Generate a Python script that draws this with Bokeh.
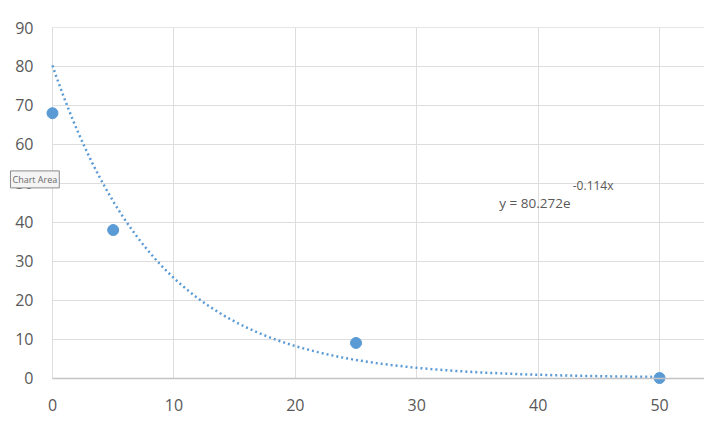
import numpy as np
from bokeh.plotting import figure
from bokeh.models import Range1d, Label, FixedTicker, BoxAnnotation
from bokeh.core.properties import value
from bokeh.embed import file_html
from bokeh.resources import INLINE

# measured points
x_pts = [0, 5, 25, 50]
y_pts = [68, 38, 9, 0]

# exponential trendline as shown on the chart: y = a * e^(b x)
trend_a = 80.272
trend_b = -0.114
trend_x_end = 50

x_ticks = [0, 10, 20, 30, 40, 50]
y_ticks = [0, 10, 20, 30, 40, 50, 60, 70, 80, 90]

blue = "#5B9BD5"
grey_text = "#595959"

x_end = 53.7
# frame covers the whole figure so the axis labels (drawn at x = 0 / y = 0) are not clipped
p = figure(width=704, height=420, output_backend="svg", toolbar_location=None,
           x_range=Range1d(-4.28, x_end), y_range=Range1d(-10.91, 96.94),
           min_border_left=0, min_border_right=0, min_border_top=0, min_border_bottom=0)
p.outline_line_color = None

# axes sit on x = 0 and y = 0, like the spreadsheet chart
for ax in (p.xaxis[0], p.yaxis[0]):
    ax.fixed_location = 0
    ax.major_tick_line_color = None
    ax.minor_tick_line_color = None
    ax.major_tick_out = 0
    ax.major_tick_in = 0
    ax.major_label_text_font = "Open Sans"
    ax.major_label_text_font_size = "16px"
    ax.major_label_text_color = grey_text
p.xaxis.ticker = FixedTicker(ticks=x_ticks)
p.yaxis.ticker = FixedTicker(ticks=y_ticks)
p.xaxis.bounds = (0, x_end)
p.xaxis.axis_line_color = "#C4C4C4"
p.xaxis.axis_line_width = 1.6
p.yaxis.axis_line_color = None
p.xaxis.major_label_standoff = 21
p.yaxis.major_label_standoff = 19

p.xgrid.grid_line_color = "#DDDDDD"
p.ygrid.grid_line_color = "#DDDDDD"
p.xgrid.ticker = FixedTicker(ticks=x_ticks)
p.ygrid.ticker = FixedTicker(ticks=y_ticks)

# keep the grid inside the plot area (0..x_end, 0..90)
for box in (dict(right=-0.04), dict(top=-0.1), dict(bottom=90.1)):
    p.add_layout(BoxAnnotation(fill_color="white", fill_alpha=1, line_color=None,
                               level="underlay", **box))

# trendline
tx = np.linspace(0, trend_x_end, 200)
ty = trend_a * np.exp(trend_b * tx)
p.line(tx, ty, line_color=blue, line_width=2.5, line_dash="2 3")

# points
p.scatter(x_pts, y_pts, size=11, fill_color=blue, line_color=blue)

# trendline equation
p.text(x=[36.8], y=[45.0], text=["y = 80.272e"], text_font=value("Open Sans"),
       text_font_size="13.5px", text_color=grey_text, text_baseline="middle")
p.text(x=[42.85], y=[49.4], text=["-0.114x"], text_font=value("Open Sans"),
       text_font_size="12px", text_color=grey_text, text_baseline="middle")

# "Chart Area" hover tip left in the screenshot
p.add_layout(Label(x=-3.46, y=51, text="Chart Area", text_font="Open Sans",
                   text_font_size="9px", text_color="#6a6a6a", text_baseline="middle",
                   background_fill_color="#f4f4f4", border_line_color="#8a8a8a",
                   padding=2))

open("out.html", "w").write(file_html(p, INLINE))
